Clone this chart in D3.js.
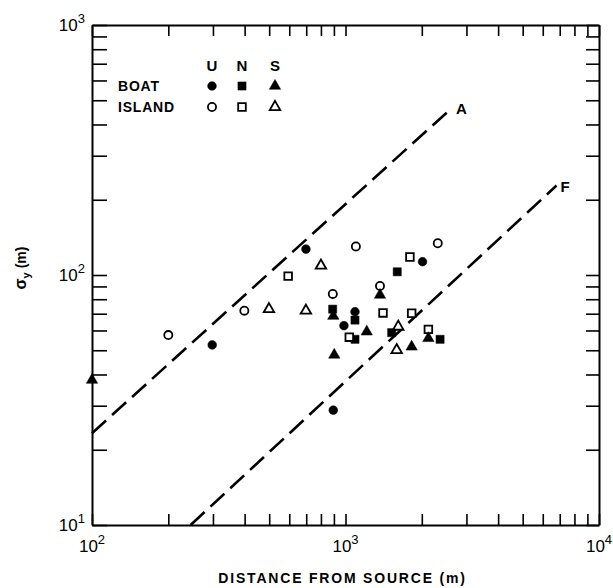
<!DOCTYPE html>
<html>
<head>
<meta charset="utf-8">
<script src="https://cdn.jsdelivr.net/npm/d3@7"></script>
<style>
  body { margin: 0; background: #fff; }
  text { font-family: "Liberation Sans", Arial, sans-serif; fill: #000; }
</style>
</head>
<body>
<script>
// data: [distance (m), sigma_y (m)]
const boatU = [[298, 52.5], [698, 127], [2013, 113], [1090, 71.3], [986, 62.7], [895, 28.8]]
const islandU = [[200, 57.5], [399, 72], [1099, 130], [2312, 134], [1368, 90.4], [891, 84]]
const boatN = [[890, 73], [1090, 66], [1090, 55.3], [1600, 103], [1521, 58.8], [2361, 55.3]]
const islandN = [[594, 99], [1795, 118], [1035, 56.4], [1406, 70.5], [1824, 70.3], [2123, 60.6]]
const boatS = [[100, 38], [1368, 83.2], [895, 68.5], [1213, 59.3], [1824, 51.6], [2123, 55.8], [903, 47.9]]
const islandS = [[499, 73], [698, 72], [800, 109], [1615, 62.1], [1592, 50.1]]

const lineA = [[100, 23.3], [2630, 466]]
const lineF = [[245, 10], [6800, 228]]

const xDecades = [2, 3, 4]
const yDecades = [1, 2, 3]
const legendCols = ['U', 'N', 'S']

const w = 613
const h = 588
const margin = { top: 25, right: 14, bottom: 63, left: 92 }
const iw = w - margin.left - margin.right
const ih = h - margin.top - margin.bottom

const svg = d3.select('body').append('svg')
  .attr('width', w)
  .attr('height', h)

const g = svg.append('g')
  .attr('transform', `translate(${margin.left},${margin.top})`)

const x = d3.scaleLog().domain([100, 10000]).range([0, iw])
const y = d3.scaleLog().domain([10, 1000]).range([ih, 0])

// all 1..9 ticks in each decade
const xTicks = []
for (let p = 2; p < 4; p++) for (let m = 1; m < 10; m++) xTicks.push(m * Math.pow(10, p))
xTicks.push(10000)
const yTicks = []
for (let p = 1; p < 3; p++) for (let m = 1; m < 10; m++) yTicks.push(m * Math.pow(10, p))
yTicks.push(1000)

function styleAxis(sel) {
  sel.select('.domain').attr('stroke-width', 2)
  sel.selectAll('.tick line').attr('stroke-width', 1.6)
  sel.selectAll('.tick text').remove()
}

g.append('g').attr('transform', `translate(0,${ih})`)
  .call(d3.axisBottom(x).tickValues(xTicks).tickSize(-11).tickSizeOuter(0))
  .call(styleAxis)
g.append('g')
  .call(d3.axisTop(x).tickValues(xTicks).tickSize(-11).tickSizeOuter(0))
  .call(styleAxis)
g.append('g')
  .call(d3.axisLeft(y).tickValues(yTicks).tickSize(-15).tickSizeOuter(0))
  .call(styleAxis)
g.append('g').attr('transform', `translate(${iw},0)`)
  .call(d3.axisRight(y).tickValues(yTicks).tickSize(-13).tickSizeOuter(0))
  .call(styleAxis)

// tick labels with superscripts
function powLabel(sel, p) {
  sel.append('tspan').attr('font-size', 17).text('10')
  sel.append('tspan').attr('font-size', 13).attr('dy', -8).text(p)
}

xDecades.forEach(p => {
  g.append('text')
    .attr('x', x(Math.pow(10, p)))
    .attr('y', ih + 27)
    .attr('text-anchor', 'middle')
    .call(powLabel, p)
})
yDecades.forEach(p => {
  g.append('text')
    .attr('x', -7)
    .attr('y', y(Math.pow(10, p)) + 6)
    .attr('text-anchor', 'end')
    .call(powLabel, p)
})

// axis titles
svg.append('text')
  .attr('x', margin.left + x(1000) - 3)
  .attr('y', 583)
  .attr('text-anchor', 'middle')
  .attr('font-size', 14)
  .attr('font-weight', 'bold')
  .attr('letter-spacing', 1.8)
  .text('DISTANCE FROM SOURCE (m)')

const yt = svg.append('text')
  .attr('transform', 'translate(26,268) rotate(-90)')
  .attr('text-anchor', 'middle')
  .attr('font-size', 14)
  .attr('font-weight', 'bold')
yt.append('tspan').attr('font-size', 16).text('σ')
yt.append('tspan').attr('font-size', 11).attr('dy', 4).text('y')
yt.append('tspan').attr('dy', -4).attr('dx', 4).text('(m)')

// reference lines
const line = d3.line().x(d => x(d[0])).y(d => y(d[1]))
;[[lineA, 'A'], [lineF, 'F']].forEach(([pts, lab]) => {
  g.append('path')
    .attr('d', line(pts))
    .attr('fill', 'none')
    .attr('stroke', '#000')
    .attr('stroke-width', 2.6)
    .attr('stroke-dasharray', '19,8')
  g.append('text')
    .attr('x', x(pts[1][0]) + 4)
    .attr('y', y(pts[1][1]) + 6)
    .attr('font-size', 15)
    .attr('font-weight', 'bold')
    .text(lab)
})

// markers
const shapes = { U: d3.symbolCircle, N: d3.symbolSquare, S: d3.symbolTriangle }
const sizes = { U: 60, N: 66, S: 56 }
const groups = [
  [boatU, 'U', true], [islandU, 'U', false],
  [boatN, 'N', true], [islandN, 'N', false],
  [boatS, 'S', true], [islandS, 'S', false]
]

function marker(sel, col, filled) {
  sel.attr('d', d3.symbol().type(shapes[col]).size(filled ? sizes[col] : sizes[col] - 8))
    .attr('fill', filled ? '#000' : '#fff')
    .attr('stroke', '#000')
    .attr('stroke-width', filled ? 0.5 : 1.8)
}

groups.forEach(([pts, col, filled]) => {
  g.selectAll(null)
    .data(pts)
    .enter()
    .append('path')
    .attr('transform', d => `translate(${x(d[0])},${y(d[1])})`)
    .call(marker, col, filled)
})

// legend
const legX = [212, 242, 275]
legendCols.forEach((c, i) => {
  svg.append('text')
    .attr('x', legX[i]).attr('y', 71)
    .attr('text-anchor', 'middle')
    .attr('font-size', 15)
    .attr('font-weight', 'bold')
    .text(c)
})
;[['BOAT', 86, true], ['ISLAND', 107, false]].forEach(([lab, ly, filled]) => {
  svg.append('text')
    .attr('x', 118).attr('y', ly + 5)
    .attr('font-size', 14)
    .attr('font-weight', 'bold')
    .attr('letter-spacing', 0.8)
    .text(lab)
  legendCols.forEach((c, i) => {
    svg.append('path')
      .attr('transform', `translate(${legX[i]},${ly})`)
      .call(marker, c, filled)
  })
})
</script>
</body>
</html>
